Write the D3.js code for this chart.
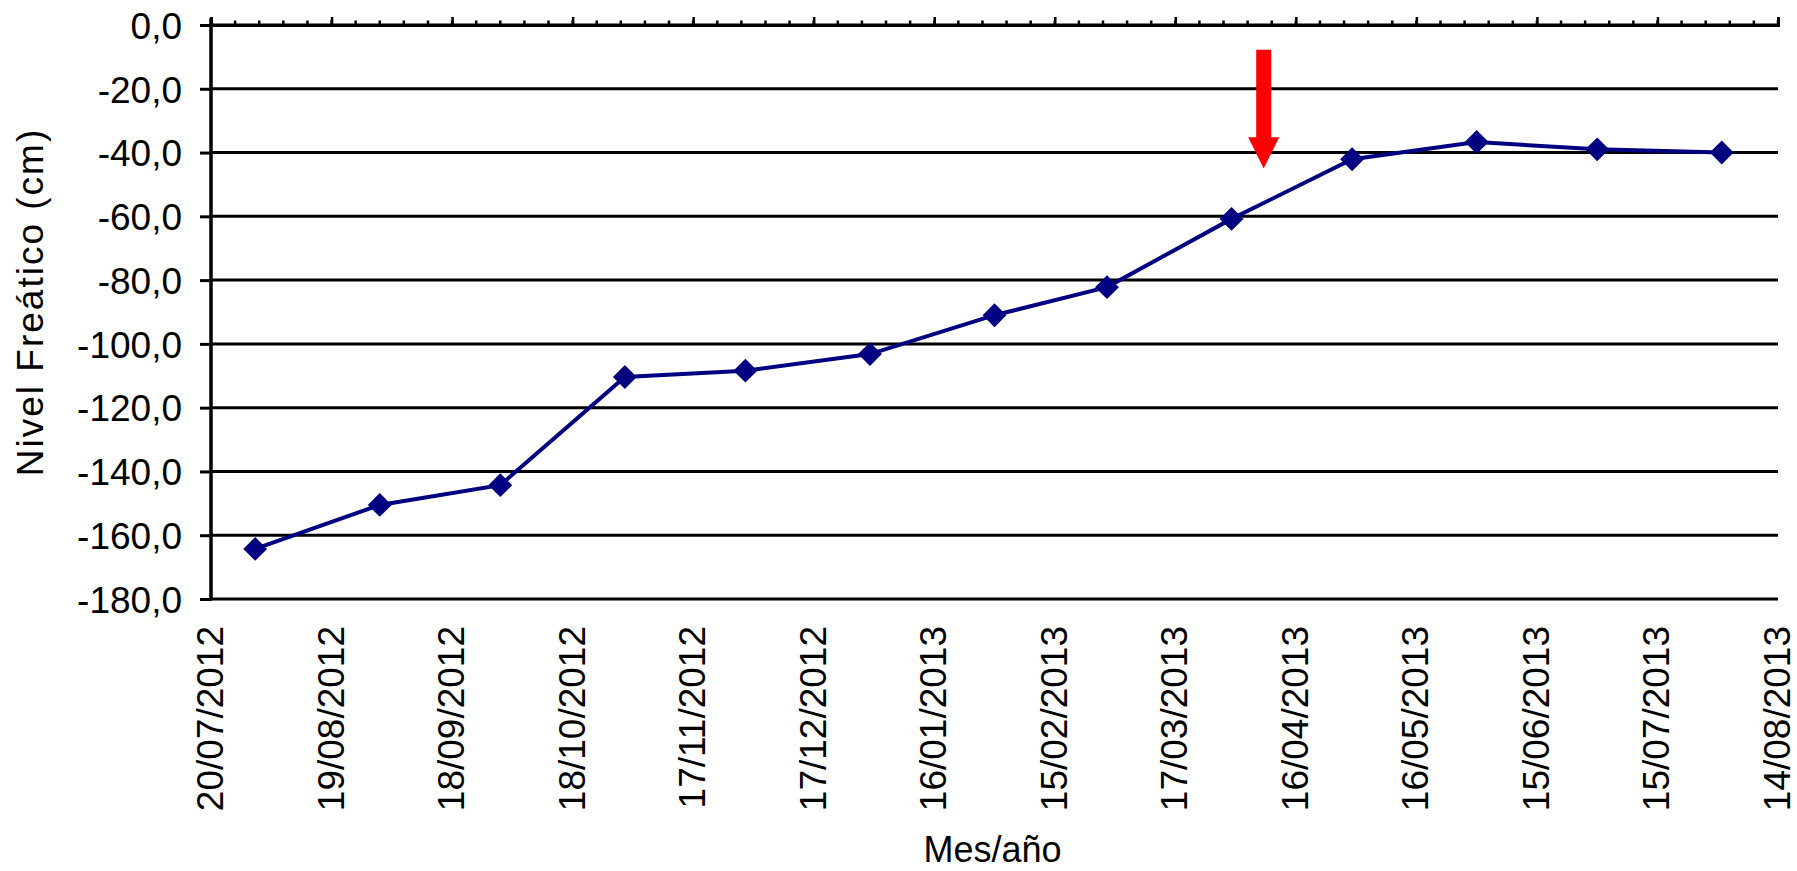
<!DOCTYPE html>
<html>
<head>
<meta charset="utf-8">
<script src="https://cdn.jsdelivr.net/npm/d3@7"></script>
<style>
  html, body { margin: 0; padding: 0; background: #fff; }
  svg { display: block; }
  text { font-family: "Liberation Sans", Arial, sans-serif; fill: #000; }
</style>
</head>
<body>
<svg id="chart" width="1797" height="871"></svg>
<script>
// ---- Data ----
const dates = ["31/07/2012","31/08/2012","30/09/2012","31/10/2012","30/11/2012","31/12/2012",
               "31/01/2013","28/02/2013","31/03/2013","30/04/2013","31/05/2013","30/06/2013","31/07/2013"];
const nivel = [-164.3, -150.5, -144.3, -110.4, -108.4, -103.2, -91.0, -82.2, -60.8, -42.1, -36.7, -39.0, -40.0];
const xTickLabels = ["20/07/2012","19/08/2012","18/09/2012","18/10/2012","17/11/2012","17/12/2012",
                     "16/01/2013","15/02/2013","17/03/2013","16/04/2013","16/05/2013","15/06/2013",
                     "15/07/2013","14/08/2013"];
const yTicks = [0, -20, -40, -60, -80, -100, -120, -140, -160, -180];
const arrowDate = "08/04/2013";
const arrowFrom = -7.8, arrowHeadStart = -35.2, arrowTo = -45.0;
const yTitle = "Nivel Freático (cm)";
const xTitle = "Mes/año";

// ---- Layout ----
const W = 1797, H = 871;
const m = {left: 211, top: 25, right: 19, bottom: 272};
const iw = W - m.left - m.right, ih = H - m.top - m.bottom;

const parse = d3.utcParse("%d/%m/%Y");
const tickDates = xTickLabels.map(parse);
const x = d3.scaleUtc().domain([tickDates[0], tickDates[tickDates.length - 1]]).range([m.left, m.left + iw]);
const y = d3.scaleLinear().domain([-180, 0]).range([m.top + ih, m.top]);

const loc = d3.formatLocale({decimal: ",", thousands: ".", grouping: [3], currency: ["", "€"], minus: "-"});
const fmt = loc.format(".1f");

const svg = d3.select("#chart");

// Gridlines (horizontal)
svg.append("g").selectAll("line").data(yTicks).join("line")
  .attr("x1", m.left).attr("x2", m.left + iw)
  .attr("y1", d => y(d)).attr("y2", d => y(d))
  .attr("stroke", "#000").attr("stroke-width", 3);

// Left y axis
const yAxis = svg.append("g").attr("transform", `translate(${m.left},0)`)
  .call(d3.axisLeft(y).tickValues(yTicks).tickFormat(fmt).tickSize(11).tickPadding(18));
yAxis.select(".domain").attr("stroke", "#000").attr("stroke-width", 3.5)
  .attr("d", `M0,${m.top - 7}V${m.top + ih + 1.5}`);
yAxis.selectAll(".tick line").attr("stroke", "#000").attr("stroke-width", 3);
yAxis.selectAll(".tick text").attr("font-size", 37).attr("dy", "0.36em")
  .attr("font-family", "'Liberation Sans', Arial, sans-serif");

// Top x axis (at value 0) with major ticks upward
const xAxis = svg.append("g").attr("transform", `translate(0,${y(0)})`)
  .call(d3.axisTop(x).tickValues(tickDates).tickFormat("").tickSize(8));
xAxis.select(".domain").attr("stroke", "#000").attr("stroke-width", 3);
xAxis.selectAll(".tick line").attr("stroke", "#000").attr("stroke-width", 2.5);

// Minor ticks every 6 days
const minor = d3.utcDay.range(tickDates[0], d3.utcDay.offset(tickDates[tickDates.length - 1], 1), 6);
svg.append("g").selectAll("line").data(minor).join("line")
  .attr("x1", d => x(d)).attr("x2", d => x(d))
  .attr("y1", y(0)).attr("y2", y(0) - 4.5)
  .attr("stroke", "#000").attr("stroke-width", 2.5);

// X tick labels at bottom, rotated
svg.append("g").selectAll("text").data(tickDates).join("text")
  .attr("transform", (d) => `translate(${x(d) + 12},${m.top + ih + 27}) rotate(-90)`)
  .attr("text-anchor", "end")
  .attr("font-size", 37)
  .text((d, i) => xTickLabels[i]);

// Line
const pts = dates.map((d, i) => ({d: parse(d), v: nivel[i]}));
svg.append("path").datum(pts)
  .attr("fill", "none").attr("stroke", "#000080").attr("stroke-width", 4)
  .attr("d", d3.line().x(p => x(p.d)).y(p => y(p.v)));

// Diamond markers
const sym = d3.symbol().type(d3.symbolSquare).size(285);
svg.append("g").selectAll("path").data(pts).join("path")
  .attr("transform", p => `translate(${x(p.d)},${y(p.v)}) rotate(45)`)
  .attr("d", sym).attr("fill", "#000080");

// Red arrow annotation
const ax = x(parse(arrowDate));
const shaftW = 15, headW = 31;
svg.append("path")
  .attr("d", `M${ax - shaftW/2},${y(arrowFrom)}H${ax + shaftW/2}V${y(arrowHeadStart)}H${ax + headW/2}` +
             `L${ax},${y(arrowTo)}L${ax - headW/2},${y(arrowHeadStart)}H${ax - shaftW/2}Z`)
  .attr("fill", "#ff0000");

// Axis titles
svg.append("text")
  .attr("transform", `translate(43,${m.top + ih/2 - 10}) rotate(-90)`)
  .attr("text-anchor", "middle").attr("font-size", 37)
  .attr("letter-spacing", 2)
  .text(yTitle);
svg.append("text")
  .attr("x", m.left + iw/2 - 2).attr("y", 862)
  .attr("text-anchor", "middle").attr("font-size", 36)
  .text(xTitle);
</script>
</body>
</html>
